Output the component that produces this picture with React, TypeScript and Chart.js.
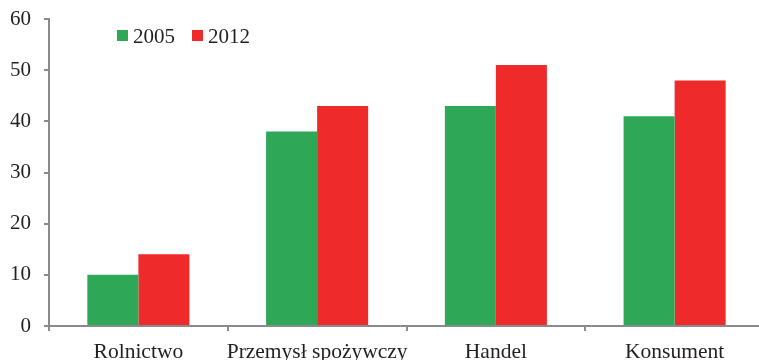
import React, { useEffect, useRef } from "react";
import { Chart, registerables } from "chart.js";

Chart.register(...registerables);

const categories = ["Rolnictwo", "Przemysł spożywczy", "Handel", "Konsument"];
const values2005 = [10, 38, 43, 41];
const values2012 = [14, 43, 51, 48];
const seriesLabels = ["2005", "2012"];
const yTicks = [0, 10, 20, 30, 40, 50, 60];

const GREEN = "#2ea857";
const RED = "#ee2a2a";
const AXIS = "#8a8a8d";
const TEXT = "#231f20";
const FONT = "'Liberation Serif', 'Times New Roman', serif";

// Legend drawn inside the plot, near the top-left
const insideLegend = {
  id: "insideLegend",
  afterDraw(chart: any) {
    const ctx = chart.ctx;
    const positions = [117, 192];
    ctx.save();
    ctx.font = `21px ${FONT}`;
    ctx.textBaseline = "middle";
    ctx.textAlign = "left";
    chart.data.datasets.forEach((ds: any, i: number) => {
      const x = positions[i];
      ctx.fillStyle = ds.backgroundColor;
      ctx.fillRect(x, 30, 11, 11);
      ctx.fillStyle = TEXT;
      ctx.fillText(ds.label, x + 16, 37);
    });
    ctx.restore();
  },
};

export default function App() {
  const ref = useRef<HTMLCanvasElement>(null);

  useEffect(() => {
    if (!ref.current) return;
    const chart = new Chart(ref.current, {
      type: "bar",
      data: {
        labels: categories,
        datasets: [
          { label: seriesLabels[0], data: values2005, backgroundColor: GREEN },
          { label: seriesLabels[1], data: values2012, backgroundColor: RED },
        ],
      },
      options: {
        responsive: false,
        animation: false,
        layout: { padding: { top: 19, right: 16, bottom: 0, left: 0 } },
        datasets: {
          bar: { categoryPercentage: 0.571, barPercentage: 1 },
        },
        plugins: {
          legend: { display: false },
          tooltip: { enabled: false },
        },
        scales: {
          x: {
            grid: {
              offset: true,
              drawOnChartArea: false,
              drawTicks: true,
              tickLength: 5,
              color: AXIS,
              lineWidth: 2,
            },
            border: { color: AXIS, width: 2 },
            ticks: {
              color: TEXT,
              font: { family: FONT, size: 21.5 },
              padding: 8,
              maxRotation: 0,
              autoSkip: false,
            },
            afterFit: (scale: any) => {
              scale.height = 54;
              scale.paddingLeft = 0;
              scale.paddingRight = 0;
            },
          },
          y: {
            min: 0,
            max: 60,
            afterBuildTicks: (scale: any) => {
              scale.ticks = yTicks.map((v) => ({ value: v }));
            },
            grid: {
              drawOnChartArea: false,
              drawTicks: true,
              tickLength: 5,
              color: AXIS,
              lineWidth: 2,
            },
            border: { color: AXIS, width: 2 },
            ticks: {
              color: TEXT,
              font: { family: FONT, size: 21 },
              padding: 13,
            },
            afterFit: (scale: any) => {
              scale.width = 49;
              scale.paddingTop = 0;
              scale.paddingBottom = 0;
            },
          },
        },
      },
      plugins: [insideLegend],
    });
    return () => chart.destroy();
  }, []);

  return (
    <div
      style={{
        position: "fixed",
        left: 0,
        top: 0,
        width: 759,
        height: 360,
        overflow: "hidden",
        background: "#ffffff",
      }}
    >
      <canvas ref={ref} width={780} height={380} style={{ display: "block" }} />
    </div>
  );
}
